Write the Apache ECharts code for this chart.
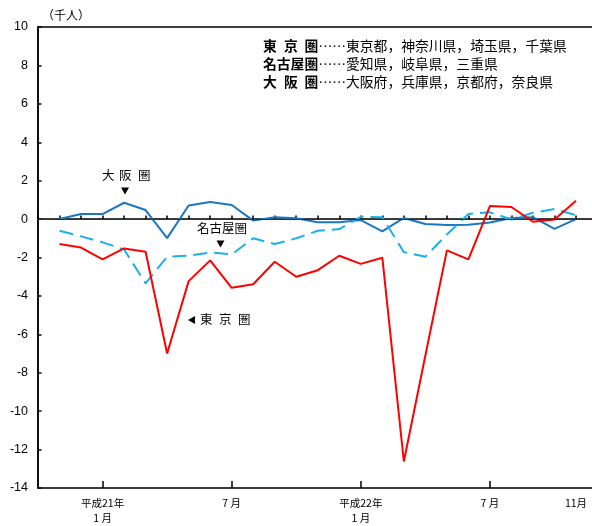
<!DOCTYPE html>
<html>
<head>
<meta charset="utf-8">
<script src="https://cdn.jsdelivr.net/npm/echarts@6/dist/echarts.min.js"></script>
<style>
html,body{margin:0;padding:0;background:#fff;}
#c{width:592px;height:526px;}
</style>
</head>
<body>
<div id="c"></div>
<script>
// Months Nov 2008 .. Nov 2010 (index 1..25 on the x axis; index 0 = Oct 2008)
const months = ["2008-11","2008-12","2009-01","2009-02","2009-03","2009-04","2009-05","2009-06","2009-07","2009-08","2009-09","2009-10","2009-11","2009-12","2010-01","2010-02","2010-03","2010-04","2010-05","2010-06","2010-07","2010-08","2010-09","2010-10","2010-11"];
// 東京圏 (千人)
const tokyo = [-1.30,-1.48,-2.10,-1.53,-1.70,-7.00,-3.23,-2.15,-3.58,-3.39,-2.22,-3.00,-2.66,-1.91,-2.33,-2.01,-12.62,-7.10,-1.63,-2.10,0.68,0.63,-0.14,-0.02,0.95];
// 名古屋圏
const nagoya = [-0.61,-0.90,-1.21,-1.58,-3.35,-1.96,-1.91,-1.74,-1.84,-1.00,-1.30,-1.00,-0.61,-0.52,0.12,0.09,-1.72,-1.96,-0.80,0.27,0.35,-0.02,0.33,0.52,0.21];
// 大阪圏
const osaka = [0.00,0.26,0.26,0.85,0.47,-0.99,0.71,0.89,0.73,-0.08,0.09,0.04,-0.17,-0.17,-0.05,-0.64,0.06,-0.26,-0.31,-0.30,-0.18,0.06,0.10,-0.51,0.00];
// x tick labels (month index on axis) and major tick positions
const xLabelIdx = [3,9,15,21,25];
const xLabelText = ["平成21年\n1 月","7 月","平成22年\n1 月","7 月","11月"];
const xMajorIdx = [3,9,15,21];
// y axis
const yMin = -14, yMax = 10, yStep = 2;

const JP = '"Noto Sans CJK JP", sans-serif';
const monthPx = 21.52;
const gridLeft = 38, gridRight = -3;
const gridWidth = 592 - gridLeft - gridRight;
const xMax = gridWidth / monthPx;

const toXY = arr => arr.map((v,i)=>[i+1, v]);

const chart = echarts.init(document.getElementById('c'), null, {renderer:'canvas'});

const FS = 13.8;
const legendRows = [
  {label:["東","京","圏"], text:"東京都，神奈川県，埼玉県，千葉県"},
  {label:["名古屋圏"], text:"愛知県，岐阜県，三重県"},
  {label:["大","阪","圏"], text:"大阪府，兵庫県，京都府，奈良県"}
];
const graphics = [];
legendRows.forEach((r,k)=>{
  const y = 46.5 + k*18;
  if (r.label.length === 1) {
    graphics.push({type:'text', left:263, top:y-7.5, style:{text:r.label[0], font:'bold '+FS+'px '+JP, fill:'#000'}});
  } else {
    const xs = [263, 284, 304.5];
    r.label.forEach((ch,j)=>graphics.push({type:'text', left:xs[j], top:y-7.5, style:{text:ch, font:'bold '+FS+'px '+JP, fill:'#000'}}));
  }
  graphics.push({type:'text', left:318.5, top:y-7.5, style:{text:'……', font:FS+'px '+JP, fill:'#000'}});
  graphics.push({type:'text', left:346, top:y-7.5, style:{text:r.text, font:FS+'px '+JP, fill:'#000'}});
});
// unit
graphics.push({type:'text', left:42, top:9, style:{text:'（千人）', font:'12px '+JP, fill:'#000'}});
// series annotations
[["大",102],["阪",119],["圏",138]].forEach(([ch,x])=>graphics.push({type:'text', left:x, top:169, style:{text:ch, font:'12.5px '+JP, fill:'#000'}}));
graphics.push({type:'polygon', shape:{points:[[121,187.5],[129,187.5],[125,194.5]]}, style:{fill:'#000'}});
graphics.push({type:'text', left:197, top:222, style:{text:'名古屋圏', font:'12.5px '+JP, fill:'#000'}});
graphics.push({type:'polygon', shape:{points:[[216.5,240.5],[224.5,240.5],[220.5,247.5]]}, style:{fill:'#000'}});
graphics.push({type:'polygon', shape:{points:[[188,320],[195,316],[195,324]]}, style:{fill:'#000'}});
[["東",200],["京",219],["圏",238]].forEach(([ch,x])=>graphics.push({type:'text', left:x, top:313, style:{text:ch, font:'12.5px '+JP, fill:'#000'}}));

const option = {
  animation:false,
  backgroundColor:'#fff',
  grid:{left:gridLeft, right:gridRight, top:27, bottom:38, containLabel:false, outerBoundsMode:'none',
        show:true, borderColor:'#000', borderWidth:1.5, backgroundColor:'transparent'},
  xAxis:[
    {type:'value', min:0, max:xMax, interval:1,
     axisLine:{show:true, lineStyle:{color:'#000', width:1.5}},
     axisTick:{show:true, inside:true, length:3.5, lineStyle:{color:'#000', width:1.5}},
     splitLine:{show:false},
     axisLabel:{show:true, customValues:xLabelIdx, margin:8, fontSize:10.5, fontFamily:JP, color:'#000', lineHeight:15,
       formatter:(v)=>{const k=xLabelIdx.indexOf(Math.round(v)); return k>=0?xLabelText[k]:'';}}
    },
    {type:'value', min:0, max:xMax, position:'bottom',
     axisLine:{show:false},
     axisTick:{show:true, inside:true, length:7, customValues:xMajorIdx, lineStyle:{color:'#000', width:1.5}},
     splitLine:{show:false},
     axisLabel:{show:false}
    }
  ],
  yAxis:{type:'value', min:yMin, max:yMax, interval:yStep,
    axisLine:{show:true, lineStyle:{color:'#000', width:1.5}},
    axisTick:{show:true, inside:true, length:3.5, lineStyle:{color:'#000', width:1.5}},
    splitLine:{show:false},
    axisLabel:{fontSize:12.5, fontFamily:'"Liberation Sans", Arial, sans-serif', color:'#000', margin:10}
  },
  series:[
    {name:'大阪圏', type:'line', data:toXY(osaka), symbol:'none', lineStyle:{color:'#1a78c2', width:2},
     markLine:{silent:true, symbol:'none', label:{show:false}, lineStyle:{color:'#333', width:1, type:'solid'}, data:[{yAxis:0}]}},
    {name:'名古屋圏', type:'line', data:toXY(nagoya), symbol:'none', lineStyle:{color:'#1cb0ea', width:2, type:[14,7]}},
    {name:'東京圏', type:'line', data:toXY(tokyo), symbol:'none', lineStyle:{color:'#ff0000', width:2}}
  ],
  graphic:graphics
};
chart.setOption(option);
</script>
</body>
</html>
